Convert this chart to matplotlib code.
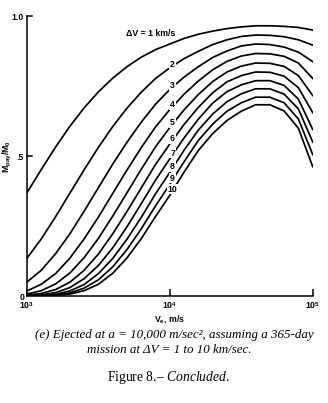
"""Payload fraction vs exhaust velocity, a = 10,000 m/s^2, 365-day mission."""
import numpy as np
import matplotlib.pyplot as plt
from matplotlib.ticker import NullLocator

plt.rcParams["mathtext.fontset"] = "custom"
plt.rcParams["mathtext.rm"] = "Liberation Sans:bold"
plt.rcParams["mathtext.it"] = "Liberation Serif:italic"

# exhaust velocity, m/s
VE = [1000, 1259, 1585, 1995, 2512, 3162, 3981, 5012, 6310, 7943, 10000,
      12590, 15850, 19950, 25120, 31620, 39810, 50120, 63100, 79430, 100000]

# M_pay / M_0 for delta-V = 1 ... 10 km/s
DV1 = [0.369, 0.452, 0.532, 0.606, 0.672, 0.729, 0.778, 0.819, 0.853, 0.880, 0.900,
       0.920, 0.935, 0.946, 0.955, 0.961, 0.965, 0.965, 0.963, 0.959, 0.950]
DV2 = [0.135, 0.204, 0.283, 0.367, 0.451, 0.531, 0.605, 0.671, 0.728, 0.777, 0.815,
       0.848, 0.874, 0.898, 0.915, 0.927, 0.932, 0.931, 0.926, 0.915, 0.896]
DV3 = [0.050, 0.092, 0.151, 0.222, 0.303, 0.387, 0.471, 0.549, 0.621, 0.685, 0.738,
       0.782, 0.819, 0.852, 0.875, 0.893, 0.900, 0.898, 0.889, 0.871, 0.837]
DV4 = [0.018, 0.042, 0.080, 0.135, 0.204, 0.282, 0.366, 0.450, 0.530, 0.604, 0.666,
       0.721, 0.768, 0.808, 0.838, 0.857, 0.866, 0.865, 0.856, 0.832, 0.777]
DV5 = [0.007, 0.019, 0.043, 0.082, 0.137, 0.206, 0.285, 0.369, 0.453, 0.533, 0.602,
       0.665, 0.720, 0.766, 0.800, 0.821, 0.832, 0.831, 0.820, 0.787, 0.716]
DV6 = [0.003, 0.009, 0.023, 0.049, 0.092, 0.150, 0.222, 0.302, 0.386, 0.470, 0.543,
       0.613, 0.674, 0.726, 0.765, 0.787, 0.800, 0.799, 0.785, 0.744, 0.655]
DV7 = [0.001, 0.004, 0.012, 0.030, 0.062, 0.109, 0.172, 0.247, 0.330, 0.414, 0.490,
       0.565, 0.632, 0.689, 0.730, 0.754, 0.769, 0.769, 0.752, 0.703, 0.595]
DV8 = [0.000, 0.002, 0.006, 0.018, 0.041, 0.080, 0.134, 0.203, 0.281, 0.365, 0.442,
       0.521, 0.593, 0.650, 0.694, 0.722, 0.740, 0.740, 0.721, 0.668, 0.550]
DV9 = [0.000, 0.001, 0.003, 0.011, 0.028, 0.058, 0.104, 0.166, 0.240, 0.322, 0.399,
       0.480, 0.556, 0.614, 0.660, 0.690, 0.710, 0.710, 0.690, 0.632, 0.505]
DV10 = [0.000, 0.000, 0.002, 0.007, 0.019, 0.042, 0.081, 0.136, 0.205, 0.284, 0.360,
        0.443, 0.520, 0.580, 0.627, 0.660, 0.683, 0.683, 0.661, 0.599, 0.462]

CURVES = [DV1, DV2, DV3, DV4, DV5, DV6, DV7, DV8, DV9, DV10]
CURVE_LABELS = ["1", "2", "3", "4", "5", "6", "7", "8", "9", "10"]

Y_TICKS = [0, 0.5, 1.0]
Y_TICKLABELS = ["0", ".5", "1.0"]
X_TICKS = [1e3, 1e4, 1e5]
X_TICKLABELS = ["10$^3$", "10$^4$", "10$^5$"]

LABEL_VE = 10450          # where the curve numbers sit
TOP_LABEL_VE = 7300


def main():
    fig = plt.figure(figsize=(3.28, 4.03), dpi=100)
    ax = fig.add_axes([27 / 328, 1 - 296 / 403, 285.7 / 328, 280 / 403])
    lab = dict(family="Liberation Sans", weight="bold", fontsize=6.3)

    for vals in CURVES:
        ax.plot(VE, vals, color="black", lw=1.25, solid_joinstyle="round")
    ax.set_xscale("log")
    ax.set_xlim(1e3, 1e5)
    ax.set_ylim(0, 1.0)

    # curve labels, knocked out of the line like the original
    box = dict(facecolor="white", edgecolor="none", pad=0.5)
    lx = np.log10(VE)
    for name, vals in zip(CURVE_LABELS[1:], CURVES[1:]):
        y = np.interp(np.log10(LABEL_VE), lx, vals)
        ax.text(LABEL_VE, y + 0.006, name, ha="center", va="center",
                bbox=box, zorder=4, **lab)
    y1 = np.interp(np.log10(TOP_LABEL_VE), lx, DV1)
    ax.text(TOP_LABEL_VE, y1 + 0.066, "ΔV = 1 km/s", ha="center", va="center",
            zorder=4, **lab)

    for s in ("top", "right"):
        ax.spines[s].set_visible(False)
    for s in ("left", "bottom"):
        ax.spines[s].set_linewidth(1.1)
    ax.set_yticks(Y_TICKS)
    ax.set_yticklabels(Y_TICKLABELS, **lab)
    ax.set_xticks(X_TICKS)
    ax.set_xticklabels(X_TICKLABELS, **lab)
    ax.xaxis.set_minor_locator(NullLocator())
    ax.tick_params(direction="in", length=5, width=1.1, pad=3)
    ax.tick_params(axis="y", direction="out", length=0, pad=2)
    for y in Y_TICKS[1:]:
        ax.plot([1e3, 1.09e3], [y, y], color="black", lw=1.1, clip_on=False)

    ax.set_xlabel("V$_{\\rm e}$, m/s", labelpad=1, **lab)
    ax.set_ylabel("M$_{\\rm pay}$/M$_{\\rm 0}$", **lab)
    ax.yaxis.set_label_coords(-0.05, 0.5)

    cap = dict(family="Liberation Serif", style="italic", fontsize=9.4,
               ha="center", va="center")
    fig.text(0.53, 1 - 335 / 403,
             "(e) Ejected at a = 10,000 m/sec², assuming a 365-day", **cap)
    fig.text(0.517, 1 - 350 / 403, "mission at ΔV = 1 to 10 km/sec.", **cap)
    fig.text(0.515, 1 - 377 / 403, "Figure 8.– $\\mathit{Concluded}$.",
             family="Liberation Serif", fontsize=9.8, ha="center", va="center")

    fig.savefig("out.png", dpi=100)


if __name__ == "__main__":
    main()
